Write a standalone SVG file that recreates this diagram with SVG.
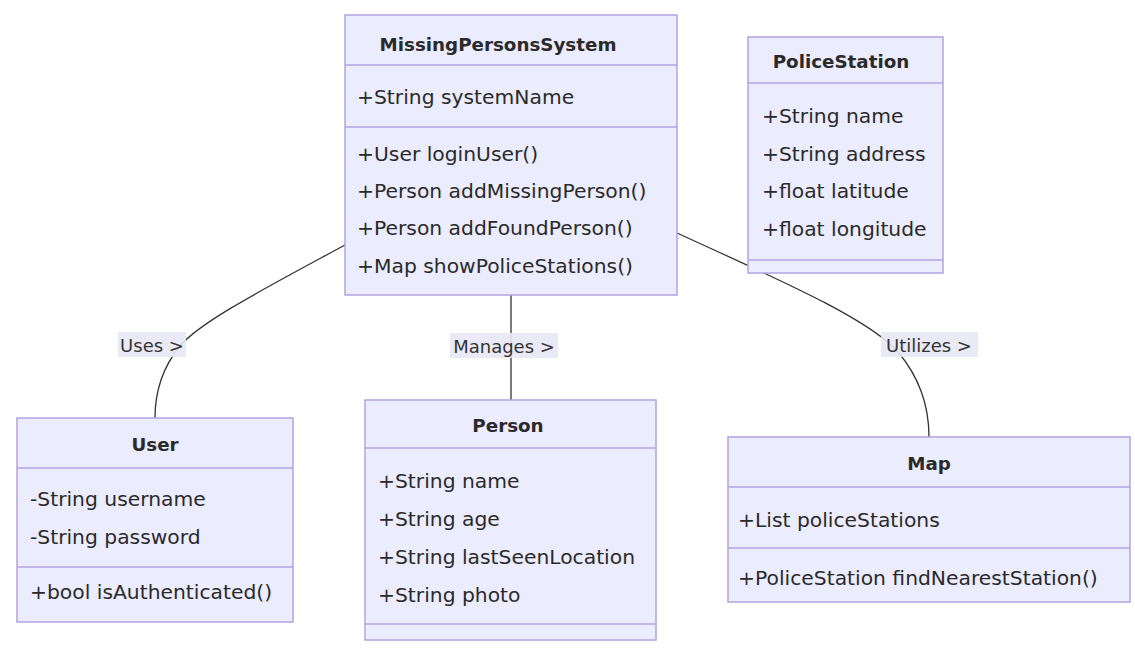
<svg xmlns="http://www.w3.org/2000/svg" width="1135" height="650" viewBox="0 0 1135 650">
<style>
.box{fill:#ECECFF;stroke:#b3a4e0;stroke-width:1.5}
.div{stroke:#b3a4e0;stroke-width:1.5}
.t{font-family:"DejaVu Sans","Liberation Sans",sans-serif;font-size:20.3px;fill:#2a2a2a;dominant-baseline:central}
.title{font-weight:bold;text-anchor:middle;font-size:18.3px}
.edge{fill:none;stroke:#333;stroke-width:1.3}
.lbg{fill:#e8e8f6;opacity:0.9}
.lbl{font-family:"DejaVu Sans","Liberation Sans",sans-serif;font-size:18px;fill:#333;text-anchor:middle;dominant-baseline:central}
</style>
<rect width="1135" height="650" fill="#ffffff"/>
<g id="connectors">
<path class="edge" d="M345,245 C262,290 200,322 180,346 C162,368 155,392 155,418"/>
<path class="edge" d="M511,295 L511,400"/>
<path class="edge" d="M677,233 C775,278 868,318 898,352 C920,378 929,405 929,437"/>
</g>
<g id="labels">
<rect class="lbg" x="118" y="332" width="68" height="25"/>
<text class="lbl" x="152" y="345">Uses &gt;</text>
<rect class="lbg" x="450" y="333" width="108" height="25"/>
<text class="lbl" x="504" y="346">Manages &gt;</text>
<rect class="lbg" x="881" y="332" width="97" height="25"/>
<text class="lbl" x="929" y="345">Utilizes &gt;</text>
</g>
<g id="MissingPersonsSystem">
<rect class="box" x="345" y="15" width="332" height="280"/>
<line class="div" x1="345" y1="65" x2="677" y2="65"/>
<line class="div" x1="345" y1="127" x2="677" y2="127"/>
<text class="t title" x="498" y="44">MissingPersonsSystem</text>
<text class="t" x="357" y="97">+String systemName</text>
<text class="t" x="357" y="154">+User loginUser()</text>
<text class="t" x="357" y="191">+Person addMissingPerson()</text>
<text class="t" x="357" y="228">+Person addFoundPerson()</text>
<text class="t" x="357" y="266">+Map showPoliceStations()</text>
</g>
<g id="PoliceStation">
<rect class="box" x="748" y="37" width="195" height="236"/>
<line class="div" x1="748" y1="83" x2="943" y2="83"/>
<line class="div" x1="748" y1="260" x2="943" y2="260"/>
<text class="t title" x="841" y="61">PoliceStation</text>
<text class="t" x="762" y="116">+String name</text>
<text class="t" x="762" y="154">+String address</text>
<text class="t" x="762" y="191">+float latitude</text>
<text class="t" x="762" y="229">+float longitude</text>
</g>
<g id="User">
<rect class="box" x="17" y="418" width="276" height="204"/>
<line class="div" x1="17" y1="468" x2="293" y2="468"/>
<line class="div" x1="17" y1="567" x2="293" y2="567"/>
<text class="t title" x="155" y="444">User</text>
<text class="t" x="30" y="499">-String username</text>
<text class="t" x="30" y="537">-String password</text>
<text class="t" x="30" y="592">+bool isAuthenticated()</text>
</g>
<g id="Person">
<rect class="box" x="365" y="400" width="291" height="240"/>
<line class="div" x1="365" y1="448" x2="656" y2="448"/>
<line class="div" x1="365" y1="624" x2="656" y2="624"/>
<text class="t title" x="508" y="425">Person</text>
<text class="t" x="378" y="481">+String name</text>
<text class="t" x="378" y="519">+String age</text>
<text class="t" x="378" y="557">+String lastSeenLocation</text>
<text class="t" x="378" y="595">+String photo</text>
</g>
<g id="Map">
<rect class="box" x="728" y="437" width="402" height="165"/>
<line class="div" x1="728" y1="487" x2="1130" y2="487"/>
<line class="div" x1="728" y1="548" x2="1130" y2="548"/>
<text class="t title" x="929" y="463">Map</text>
<text class="t" x="738" y="520">+List policeStations</text>
<text class="t" x="738" y="578">+PoliceStation findNearestStation()</text>
</g>
</svg>
